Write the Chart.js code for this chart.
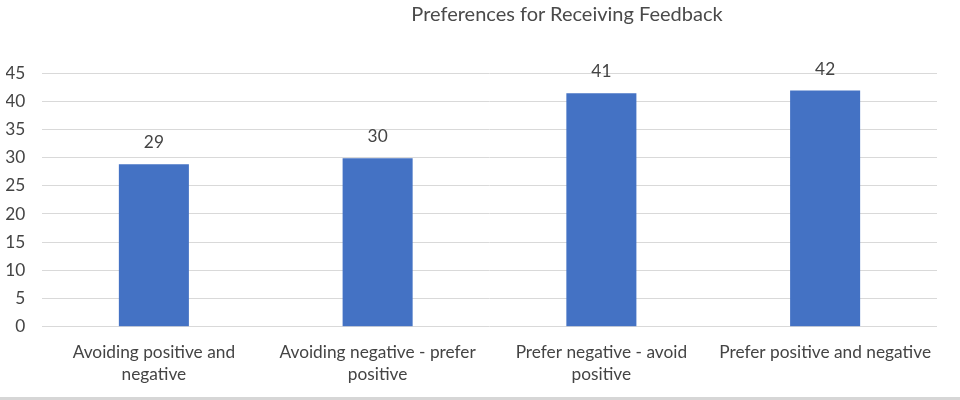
<!DOCTYPE html>
<html>
<head>
<meta charset="utf-8">
<script src="https://cdn.jsdelivr.net/npm/chart.js@4"></script>
<style>
  html, body { margin: 0; padding: 0; background: #ffffff; }
  #wrap { position: relative; width: 960px; height: 400px; }
  #title { position: absolute; top: 1px; left: 567px; transform: translateX(-50%);
           font-family: Lato, sans-serif; font-size: 20px; color: #4a4a4a; white-space: nowrap; }
  #bottomline { position: absolute; left: 0; top: 397px; width: 960px; height: 3px; background: #d6d6d6; }
</style>
</head>
<body>
<div id="wrap">
  <canvas id="c" width="960" height="400"></canvas>
  <div id="title">Preferences for Receiving Feedback</div>
  <div id="bottomline"></div>
</div>
<script>
const categories = [
  ["Avoiding positive and", "negative"],
  ["Avoiding negative - prefer", "positive"],
  ["Prefer negative - avoid", "positive"],
  ["Prefer positive and negative"]
];
const values = [28.8, 29.9, 41.4, 41.9];
const yMax = 45;
const yStep = 5;

const textColor = '#444444';
const fontFamily = 'Lato, sans-serif';
const fontSize = 17.3;

const valueLabels = {
  id: 'valueLabels',
  afterDatasetsDraw(chart) {
    const ctx = chart.ctx;
    const meta = chart.getDatasetMeta(0);
    ctx.save();
    ctx.fillStyle = textColor;
    ctx.font = fontSize + 'px ' + fontFamily;
    ctx.textAlign = 'center';
    ctx.textBaseline = 'middle';
    meta.data.forEach((bar, i) => {
      ctx.fillText(String(Math.round(values[i])), bar.x, bar.y - 21.5);
    });
    ctx.restore();
  }
};

new Chart(document.getElementById('c'), {
  type: 'bar',
  data: {
    labels: categories,
    datasets: [{
      data: values,
      backgroundColor: '#4472C4',
      borderWidth: 0,
      categoryPercentage: 1,
      barPercentage: 0.313
    }]
  },
  options: {
    responsive: false,
    animation: false,
    devicePixelRatio: 1,
    layout: { padding: { left: 6, right: 23, top: 73, bottom: 0 } },
    plugins: { legend: { display: false }, title: { display: false }, tooltip: { enabled: false } },
    scales: {
      x: {
        grid: { display: false, drawTicks: false },
        border: { display: false },
        ticks: {
          color: textColor,
          font: { family: fontFamily, size: fontSize, lineHeight: 1.25 },
          padding: 15,
          maxRotation: 0,
          minRotation: 0,
          autoSkip: false
        }
      },
      y: {
        min: 0,
        max: yMax,
        grid: { color: '#d9d9d9', lineWidth: 1, drawTicks: false },
        border: { display: false },
        afterFit(scale) { scale.width = 36; },
        ticks: {
          stepSize: yStep,
          color: textColor,
          font: { family: fontFamily, size: fontSize },
          padding: 16.7
        }
      }
    }
  },
  plugins: [valueLabels]
});
</script>
</body>
</html>
